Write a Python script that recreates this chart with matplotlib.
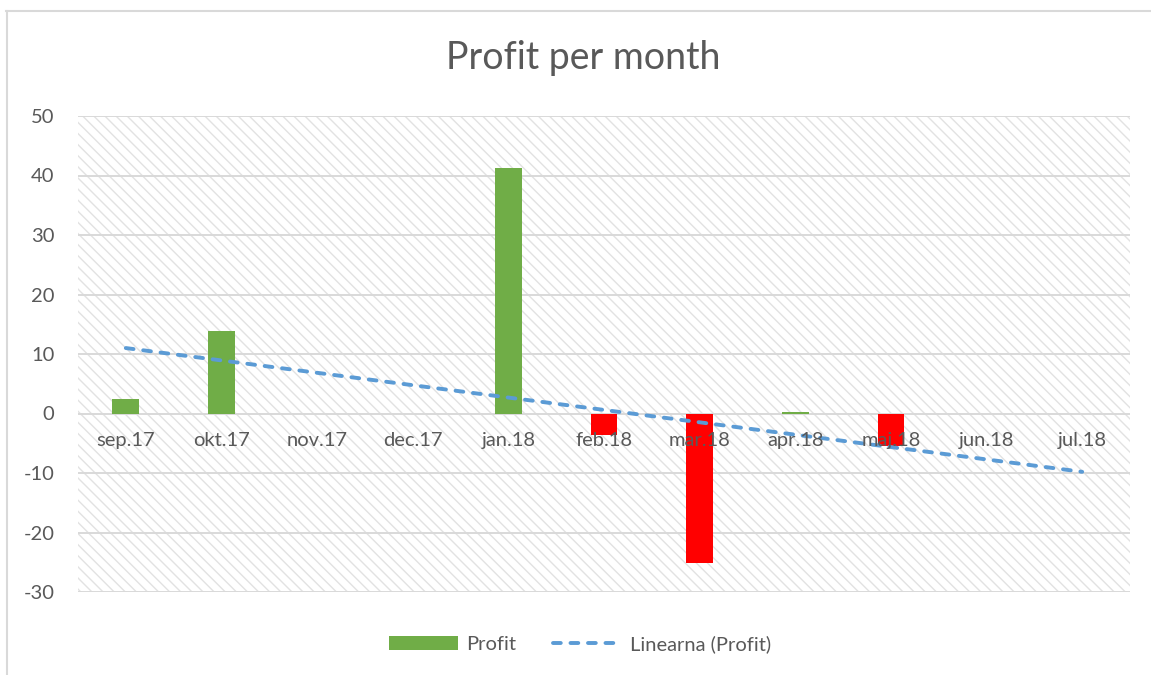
import numpy as np
import matplotlib
matplotlib.use("Agg")
from matplotlib import pyplot as plt
from matplotlib.patches import Rectangle, Patch
from matplotlib.lines import Line2D

# Data
months = ["sep.17", "okt.17", "nov.17", "dec.17", "jan.18", "feb.18",
          "mar.18", "apr.18", "maj.18", "jun.18", "jul.18"]
profit = [2.5, 13.8, 0, 0, 41.2, -3.6, -25.1, 0.2, -5.4, 0, 0]
trend_ends = [11.0, -9.8]          # linear trend at sep.17 and jul.18

GREEN = "#70ad47"
RED = "#ff0000"
BLUE = "#5b9bd5"
GRID = "#d9d9d9"
TEXT = "#595959"

plt.rcParams['font.family'] = ['Lato', 'DejaVu Sans']
plt.rcParams['hatch.linewidth'] = 1.0
plt.rcParams['axes.unicode_minus'] = False

fig = plt.figure(figsize=(11.51, 6.75), dpi=100)
ax = fig.add_axes([78/1151, 83/675, (1130-78)/1151, (592-116)/675])

# hatched plot area
ax.add_patch(Rectangle((0, 0), 1, 1, transform=ax.transAxes, facecolor="white",
                       edgecolor="#e2e2e2", hatch="\\\\\\", linewidth=0, zorder=0))

x = np.arange(len(months))
colors = [GREEN if v >= 0 else RED for v in profit]
ax.bar(x, profit, width=0.28, color=colors, zorder=3)

# trend line
trend_style = dict(color=BLUE, lw=2.8, dashes=(2, 2.5), dash_capstyle="round")
ax.plot([x[0], x[-1]], trend_ends, zorder=4, **trend_style)

ax.set_xlim(-0.5, len(months) - 0.5)
ax.set_ylim(-30, 50)
ax.set_yticks(np.arange(-30, 51, 10))
ax.yaxis.grid(True, color=GRID, lw=1.4)
ax.set_axisbelow(True)

for s in ax.spines.values():
    s.set_visible(False)

# month labels sit just under the zero line, drawn over the bars
ax.set_xticks([])
for i, m in enumerate(months):
    ax.annotate(m, (x[i], 0), xytext=(0, -13), textcoords="offset points",
                ha="center", va="top", fontsize=14.5, color=TEXT, zorder=10)
ax.tick_params(axis="y", length=0, pad=17, labelsize=14.5, labelcolor=TEXT)

fig.text(583/1151, 1 - 58/675, "Profit per month", ha="center", va="center",
         fontsize=27, color=TEXT)

handles = [Patch(facecolor=GREEN, edgecolor="none"), Line2D([], [], **trend_style)]
fig.legend(handles, ["Profit", "Linearna (Profit)"], loc="center",
           bbox_to_anchor=(580/1151, 1 - 644/675), ncol=2, frameon=False,
           fontsize=14.5, labelcolor=TEXT, handlelength=3.4, handleheight=0.7,
           handletextpad=0.4, columnspacing=1.85)

# chart frame (top and left edges visible)
fig.add_artist(Line2D([6/1151, 1], [1 - 11/675, 1 - 11/675], color=GRID, lw=1.5,
                      transform=fig.transFigure))
fig.add_artist(Line2D([7/1151, 7/1151], [0, 1 - 11/675], color=GRID, lw=1.5,
                      transform=fig.transFigure))

fig.savefig("out.png", dpi=100)
